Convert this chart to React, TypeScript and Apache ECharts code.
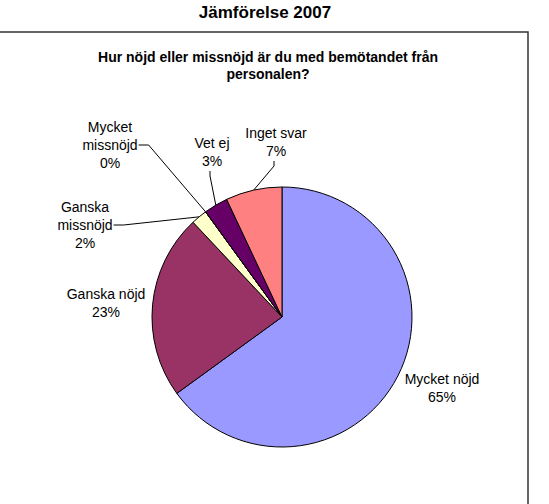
import React, { useEffect, useRef } from "react";
import * as echarts from "echarts";

const title = "Jämförelse 2007";
const subtitle = "Hur nöjd eller missnöjd är du med bemötandet från\npersonalen?";
const categories = ["Mycket nöjd", "Ganska nöjd", "Ganska missnöjd", "Mycket missnöjd", "Vet ej", "Inget svar"];
const labelNames = ["Mycket nöjd", "Ganska nöjd", "Ganska\nmissnöjd", "Mycket\nmissnöjd", "Vet ej", "Inget svar"];
const values = [65, 23, 2, 0, 3, 7];
const colors = ["#9999FF", "#993366", "#FFFFCC", "#CCFFFF", "#660066", "#FF8080"];

// label layout (centre of label box) and leader style: none | right | bottom
const labelPos: [number, number][] = [
  [442, 388],
  [106, 303],
  [85, 225],
  [110, 145],
  [212, 152],
  [276, 142],
];
const leader = ["none", "none", "right", "right", "bottom", "bottom"];

export default function App() {
  const ref = useRef<HTMLDivElement>(null);
  useEffect(() => {
    if (!ref.current) return;
    const chart = echarts.init(ref.current, null, { renderer: "svg" });
    const font = "'Liberation Sans', Arial, sans-serif";
    chart.setOption({
      animation: false,
      backgroundColor: "#ffffff",
      graphic: [
        {
          type: "rect",
          shape: { x: -2, y: 32, width: 530, height: 490 },
          style: { fill: "none", stroke: "#333333", lineWidth: 1.5 },
          z: 0,
        },
        {
          type: "text",
          x: 265,
          y: 12,
          style: {
            text: title,
            font: `bold 17px ${font}`,
            fill: "#000",
            textAlign: "center",
            textVerticalAlign: "middle",
          },
        },
        {
          type: "text",
          x: 268,
          y: 65,
          style: {
            text: subtitle,
            font: `bold 14px ${font}`,
            lineHeight: 17,
            fill: "#000",
            textAlign: "center",
            textVerticalAlign: "middle",
          },
        },
      ],
      series: [
        {
          type: "pie",
          center: [282, 317],
          radius: 130,
          startAngle: 90,
          clockwise: true,
          avoidLabelOverlap: false,
          minAngle: 0,
          itemStyle: { borderColor: "#000", borderWidth: 1 },
          emphasis: { disabled: true },
          label: {
            show: true,
            position: "outside",
            color: "#000",
            fontFamily: font,
            fontSize: 14,
            lineHeight: 18,
            align: "center",
            formatter: (p: any) => `${labelNames[p.dataIndex]}\n${p.value}%`,
          },
          labelLine: { show: true, lineStyle: { color: "#000", width: 1 }, length: 10, length2: 10 },
          labelLayout: (p: any) => {
            const i = p.dataIndex;
            const [cx, cy] = labelPos[i];
            const w = p.labelRect.width;
            const h = p.labelRect.height;
            const res: any = { x: cx, y: cy, align: "center", verticalAlign: "middle" };
            const pts = p.labelLinePoints;
            if (pts && leader[i] !== "none") {
              const start = pts[0];
              if (leader[i] === "right") {
                const a = [cx + w / 2 + 1, cy];
                res.labelLinePoints = [start, [a[0] + 10, a[1]], a];
              } else {
                const a = [cx - 2, cy + h / 2 + 1];
                res.labelLinePoints = [start, [a[0], a[1] + 5], a];
              }
            }
            return res;
          },
          data: categories.map((c, i) => ({
            name: c,
            value: values[i],
            itemStyle: { color: colors[i] },
            labelLine: { show: leader[i] !== "none" },
          })),
        },
      ],
    });
    return () => chart.dispose();
  }, []);
  return <div ref={ref} style={{ position: "fixed", left: 0, top: 0, width: 549, height: 504 }} />;
}
